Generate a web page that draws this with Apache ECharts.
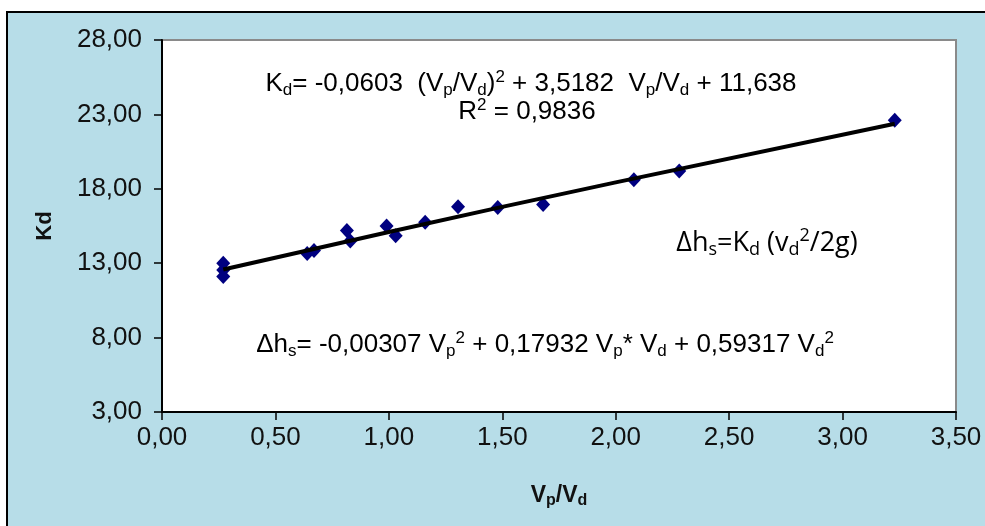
<!DOCTYPE html>
<html>
<head>
<meta charset="utf-8">
<script src="https://cdn.jsdelivr.net/npm/echarts@6/dist/echarts.min.js"></script>
<style>
  html, body { margin: 0; padding: 0; background: #fff; }
  #chart { width: 985px; height: 526px; }
</style>
</head>
<body>
<div id="chart"></div>
<script>
// measured points (Vp/Vd, Kd)
var vpvd = [0.27, 0.27, 0.27, 0.64, 0.67, 0.815, 0.83, 0.99, 1.03, 1.16, 1.305, 1.48, 1.68, 2.08, 2.28, 3.23];
var kd = [13.0, 12.55, 12.1, 13.65, 13.85, 15.2, 14.5, 15.5, 14.85, 15.75, 16.8, 16.75, 16.95, 18.6, 19.2, 22.6];

// trend line
var trendX = [0.27, 1.0, 2.0, 3.23];
var trendY = [12.58, 15.10, 18.43, 22.37];

var xTicks = ['0,00', '0,50', '1,00', '1,50', '2,00', '2,50', '3,00', '3,50'];

var myChart = echarts.init(document.getElementById('chart'));

var points = vpvd.map(function (x, i) { return [x, kd[i]]; });
var trend = trendX.map(function (x, i) { return [x, trendY[i]]; });

function comma(v) {
  return v.toFixed(2).replace('.', ',');
}

var main = { fontSize: 26, fontFamily: 'Liberation Sans', color: '#111', lineHeight: 30 };
var sub = { fontSize: 17, fontFamily: 'Liberation Sans', color: '#111', lineHeight: 18, verticalAlign: 'bottom' };
var sup = { fontSize: 17, fontFamily: 'Liberation Sans', color: '#111', lineHeight: 18, verticalAlign: 'top' };

var option = {
  backgroundColor: '#fff',
  animation: false,
  grid: {
    left: 162, top: 40, right: 29, bottom: 114,
    show: true,
    backgroundColor: '#fff',
    borderColor: '#8a8a8a',
    borderWidth: 2
  },
  xAxis: {
    type: 'value',
    min: 0, max: 3.5, interval: 0.5,
    name: '{a|V}{b|p}{a|/V}{b|d}',
    nameLocation: 'middle',
    nameGap: 71,
    nameTextStyle: {
      rich: {
        a: { fontSize: 23, fontWeight: 'bold', fontFamily: 'Liberation Sans', color: '#111', lineHeight: 26 },
        b: { fontSize: 16, fontWeight: 'bold', fontFamily: 'Liberation Sans', color: '#111', lineHeight: 16, verticalAlign: 'bottom' }
      }
    },
    axisLine: { onZero: false, lineStyle: { color: '#000', width: 2 } },
    axisTick: { show: true, length: 8, lineStyle: { color: '#000', width: 1.5 } },
    splitLine: { show: false },
    axisLabel: {
      fontSize: 26, fontFamily: 'Liberation Sans', color: '#111', margin: 13,
      formatter: function (v) { return xTicks[Math.round(v / 0.5)]; }
    }
  },
  yAxis: {
    type: 'value',
    min: 3, max: 28, interval: 5,
    name: 'Kd',
    nameLocation: 'middle',
    nameGap: 106,
    nameTextStyle: { fontSize: 22, fontWeight: 'bold', fontFamily: 'Liberation Sans', color: '#111' },
    axisLine: { onZero: false, lineStyle: { color: '#000', width: 2 } },
    axisTick: { show: true, length: 8, lineStyle: { color: '#000', width: 1.5 } },
    splitLine: { show: false },
    axisLabel: {
      fontSize: 26, fontFamily: 'Liberation Sans', color: '#111', margin: 20,
      formatter: comma
    }
  },
  graphic: [
    {
      type: 'rect', z: -10, silent: true,
      shape: { x: 7, y: 12, width: 990, height: 530 },
      style: { fill: '#b7dde8', stroke: '#000', lineWidth: 2 }
    },
    {
      type: 'text', x: 531, y: 84, z: 10,
      style: {
        text: '{n|K}{s|d}{n|= -0,0603  (V}{s|p}{n|/V}{s|d}{n|)}{u|2}{n| + 3,5182  V}{s|p}{n|/V}{s|d}{n| + 11,638}',
        align: 'center', verticalAlign: 'middle',
        rich: { n: main, s: sub, u: sup }
      }
    },
    {
      type: 'text', x: 527, y: 112, z: 10,
      style: {
        text: '{n|R}{u|2}{n| = 0,9836}',
        align: 'center', verticalAlign: 'middle',
        rich: { n: main, u: sup }
      }
    },
    {
      type: 'text', x: 545, y: 345, z: 10,
      style: {
        text: '{n|Δh}{s|s}{n|= -0,00307 V}{s|p}{u|2}{n| + 0,17932 V}{s|p}{n|* V}{s|d}{n| + 0,59317 V}{s|d}{u|2}',
        align: 'center', verticalAlign: 'middle',
        rich: { n: main, s: sub, u: sup }
      }
    },
    {
      type: 'text', x: 767, y: 243, z: 10,
      style: {
        text: '{n|Δh}{s|s}{n|=K}{s|d}{n| (v}{s|d}{u|2}{n|/2g)}',
        align: 'center', verticalAlign: 'middle',
        rich: {
          n: { fontSize: 27, fontFamily: 'Open Sans', color: '#111', lineHeight: 32 },
          s: { fontSize: 18, fontFamily: 'Open Sans', color: '#111', lineHeight: 18, verticalAlign: 'bottom' },
          u: { fontSize: 18, fontFamily: 'Open Sans', color: '#111', lineHeight: 18, verticalAlign: 'top' }
        }
      }
    }
  ],
  series: [
    {
      name: 'Kd',
      type: 'scatter',
      symbol: 'diamond',
      symbolSize: [14, 15],
      itemStyle: { color: '#000080', opacity: 1 },
      data: points,
      z: 2
    },
    {
      name: 'trend',
      type: 'line',
      smooth: true,
      showSymbol: false,
      lineStyle: { color: '#000', width: 4 },
      data: trend,
      z: 3
    }
  ]
};

option && myChart.setOption(option);
</script>
</body>
</html>
